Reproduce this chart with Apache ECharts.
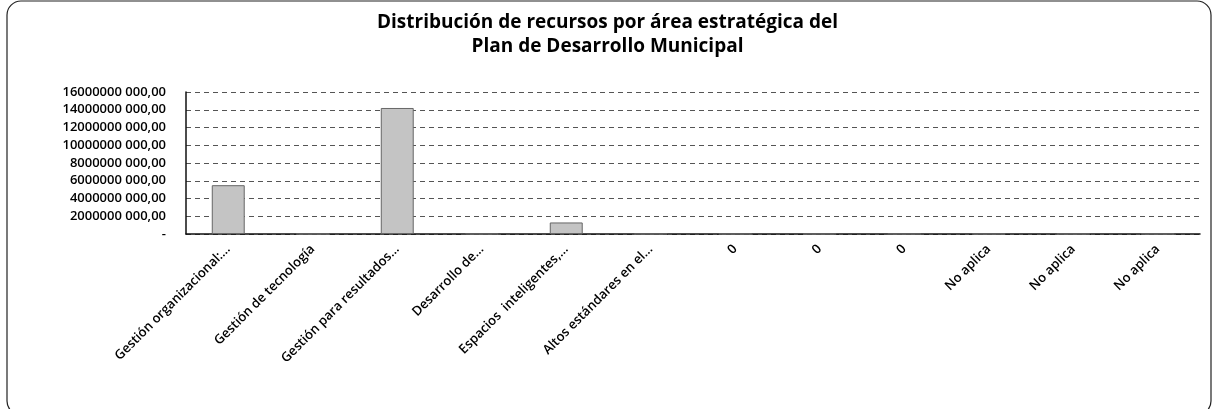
<!DOCTYPE html>
<html>
<head>
<meta charset="utf-8">
<script src="https://cdn.jsdelivr.net/npm/echarts@6/dist/echarts.min.js"></script>
<style>html,body{margin:0;padding:0;background:#fff;}#c{width:1215px;height:409px;}</style>
</head>
<body>
<div id="c"></div>
<script>
const titleLines = ["Distribución de recursos por área estratégica del", "Plan de Desarrollo Municipal"];
const categories = ["Gestión organizacional:...", "Gestión de tecnología", "Gestión para resultados...", "Desarrollo de...", "Espacios  inteligentes,...", "Altos estándares en el...", "0", "0", "0", "No aplica", "No aplica", "No aplica"];
const values = [5500000000, 0, 14200000000, 0, 1300000000, 0, 0, 0, 0, 0, 0, 0];
const yTicks = [0, 2000000000, 4000000000, 6000000000, 8000000000, 10000000000, 12000000000, 14000000000, 16000000000];

const chart = echarts.init(document.getElementById('c'));
const font = '"Open Sans", "Noto Sans", sans-serif';
chart.setOption({
  animation: false,
  backgroundColor: '#fff',
  graphic: [{
    type: 'rect', shape: {x: 7, y: 1, width: 1204, height: 414, r: 14},
    style: {fill: 'none', stroke: '#222', lineWidth: 1.2}, z: 0
  }],
  title: {
    text: titleLines.join('\n'), left: 'center', top: 6,
    textStyle: {fontFamily: font, fontSize: 19, fontWeight: 'bold', color: '#000', lineHeight: 24}
  },
  grid: {left: 186, right: 15, top: 92, bottom: 175},
  xAxis: {
    type: 'category', data: categories,
    axisLine: {lineStyle: {color: '#111', width: 1.5}},
    axisTick: {show: false},
    axisLabel: {rotate: 45, interval: 0, margin: 13, fontFamily: font, fontSize: 13, fontWeight: 600, color: '#000'}
  },
  yAxis: {
    type: 'value', min: 0, max: 16000000000, interval: 2000000000,
    axisLine: {show: true, lineStyle: {color: '#111', width: 1.5}},
    axisTick: {show: false},
    splitLine: {lineStyle: {color: '#555', type: [5, 4], width: 1}},
    axisLabel: {
      margin: 20, fontFamily: font, fontSize: 13, fontWeight: 600, color: '#000',
      formatter: v => v === 0 ? '-' : (Math.floor(v / 1000)) + ' ' + String(v % 1000).padStart(3, '0') + ',00'
    }
  },
  series: [{
    type: 'bar', data: values, barWidth: '39%',
    itemStyle: {color: '#c4c4c4', borderColor: '#666', borderWidth: 1}
  }]
});
</script>
</body>
</html>
